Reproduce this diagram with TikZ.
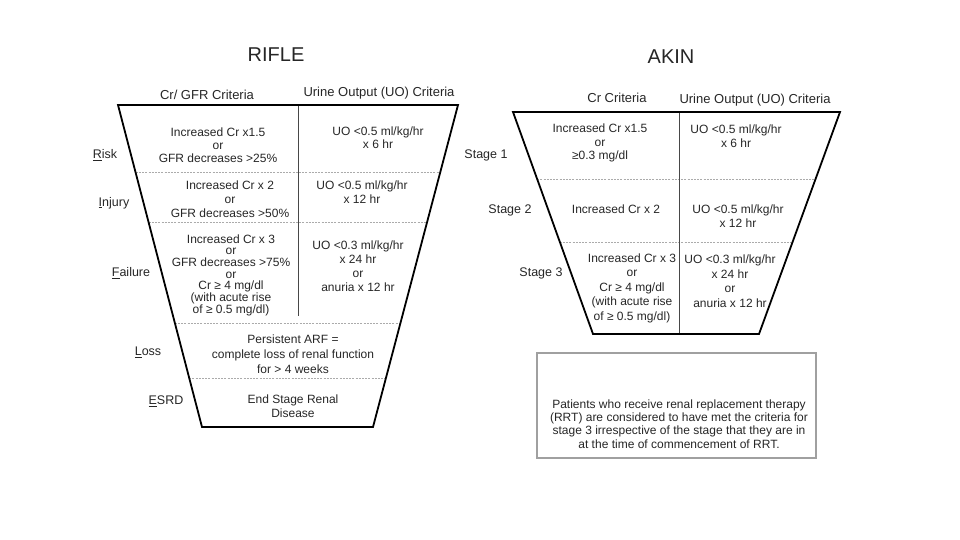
\documentclass[tikz,border=0pt]{standalone}
\usepackage{fontspec}
\setmainfont{Liberation Sans}
\usepackage{tikz}
\usetikzlibrary{calc}
\definecolor{ink}{HTML}{262626}
\definecolor{sepgray}{HTML}{ABABAB}
\definecolor{notegray}{HTML}{A0A0A0}

\begin{document}
\begin{tikzpicture}[x=1pt, y=-1pt,
  txt/.style={align=center, inner sep=0pt, text=ink, font=\fontsize{12}{13.5}\selectfont},
  hdr/.style={inner sep=0pt, text=ink, font=\fontsize{13}{15}\selectfont},
  ttl/.style={inner sep=0pt, text=ink, font=\fontsize{20}{24}\selectfont},
  lbl/.style={inner sep=0pt, text=ink, font=\fontsize{12.5}{15}\selectfont},
  funnel/.style={draw=black, line width=1.8pt, line join=miter},
  sepline/.style={draw=sepgray, line width=0.9pt, dash pattern=on 2pt off 1.2pt},
  colline/.style={draw=ink!85, line width=0.8pt},
  notebox/.style={draw=notegray, line width=1.2pt}]
\useasboundingbox (0,0) rectangle (960,540);

% RIFLE funnel
\coordinate (rTL) at (118,105);
\coordinate (rTR) at (458,105);
\coordinate (rBR) at (373,427);
\coordinate (rBL) at (202,427);
\foreach \t [count=\i] in {0.211,0.366,0.677,0.848} {
  \coordinate (rl\i) at ($(rTL)!\t!(rBL)$);
  \coordinate (rr\i) at ($(rTR)!\t!(rBR)$);
  \draw[sepline] (rl\i) -- (rr\i);
}
\coordinate (rDivT) at (298,105);
\coordinate (rDivB) at (298,316);
\draw[colline] (rDivT) -- (rDivB);
\draw[funnel] (rTL) -- (rTR) -- (rBR) -- (rBL) -- cycle;

\node[ttl] (rifle) at (276,55) {RIFLE};
\node[hdr] (rCr) at (207,95) {Cr/ GFR Criteria};
\node[hdr] (rUO) at (379,93) {Urine Output (UO) Criteria};

\node[lbl] (risk) at (105,155) {\underline{R}isk};
\node[lbl] (injury) at (114,203) {\underline{I}njury};
\node[lbl] (failure) at (131,273) {\underline{F}ailure};
\node[lbl] (loss) at (148,352) {\underline{L}oss};
\node[lbl] (esrd) at (166,401) {\underline{E}SRD};

\node[txt, font=\fontsize{12}{13}\selectfont] (riskCr) at (218,145) {Increased Cr x1.5\\or\\GFR decreases >25\%};
\node[txt, font=\fontsize{12}{13}\selectfont] (riskUO) at (378,138) {UO <0.5 ml/kg/hr\\x 6 hr};
\node[txt, font=\fontsize{12}{14}\selectfont] (injCr) at (230,199) {Increased Cr x 2\\or\\GFR decreases >50\%};
\node[txt] (injUO) at (362,192) {UO <0.5 ml/kg/hr\\x 12 hr};
\node[txt, font=\fontsize{12}{11.7}\selectfont] (failCr) at (231,275)
  {Increased Cr x 3\\or\\GFR decreases >75\%\\or\\Cr ≥ 4 mg/dl\\(with acute rise\\of ≥ 0.5 mg/dl)};
\node[txt, font=\fontsize{12}{14}\selectfont] (failUO) at (358,266) {UO <0.3 ml/kg/hr\\x 24 hr\\or\\anuria x 12 hr};
\node[txt, font=\fontsize{12}{15}\selectfont] (lossTx) at (293,354) {Persistent ARF =\\complete loss of renal function\\for > 4 weeks};
\node[txt, font=\fontsize{12}{14}\selectfont] (esrdTx) at (293,406) {End Stage Renal\\Disease};

% AKIN funnel
\coordinate (aTL) at (513,112);
\coordinate (aTR) at (840,112);
\coordinate (aBR) at (759,334);
\coordinate (aBL) at (593,334);
\foreach \t [count=\i] in {0.302,0.586} {
  \coordinate (al\i) at ($(aTL)!\t!(aBL)$);
  \coordinate (ar\i) at ($(aTR)!\t!(aBR)$);
  \draw[sepline] (al\i) -- (ar\i);
}
\coordinate (aDivT) at (679,112);
\coordinate (aDivB) at (679,334);
\draw[colline] (aDivT) -- (aDivB);
\draw[funnel] (aTL) -- (aTR) -- (aBR) -- (aBL) -- cycle;

\node[ttl] (akin) at (671,57) {AKIN};
\node[hdr] (aCr) at (617,98) {Cr Criteria};
\node[hdr] (aUO) at (755,100) {Urine Output (UO) Criteria};

\node[lbl] (stage1) at (486,155) {Stage 1};
\node[lbl] (stage2) at (510,210) {Stage 2};
\node[lbl] (stage3) at (541,273) {Stage 3};

\node[txt] (s1Cr) at (600,143) {Increased Cr x1.5\\or\\≥0.3 mg/dl};
\node[txt] (s1UO) at (736,136) {UO <0.5 ml/kg/hr\\x 6 hr};
\node[txt] (s2Cr) at (616,209) {Increased Cr x 2};
\node[txt, font=\fontsize{12}{14}\selectfont] (s2UO) at (738,216) {UO <0.5 ml/kg/hr\\x 12 hr};
\node[txt, font=\fontsize{12}{14.5}\selectfont] (s3Cr) at (632,288) {Increased Cr x 3\\or\\Cr ≥ 4 mg/dl\\(with acute rise\\of ≥ 0.5 mg/dl)};
\node[txt, font=\fontsize{12}{14.5}\selectfont] (s3UO) at (730,281) {UO <0.3 ml/kg/hr\\x 24 hr\\or\\anuria x 12 hr};

% RRT note
\coordinate (nTL) at (537,353);
\coordinate (nBR) at (816,458);
\draw[notebox] (nTL) rectangle (nBR);
\node[txt, font=\fontsize{12}{13.3}\selectfont] (rrt) at (679,424)
  {Patients who receive renal replacement therapy\\(RRT) are considered to have met the criteria for\\stage 3 irrespective of the stage that they are in\\at the time of commencement of RRT.};
\end{tikzpicture}
\end{document}
